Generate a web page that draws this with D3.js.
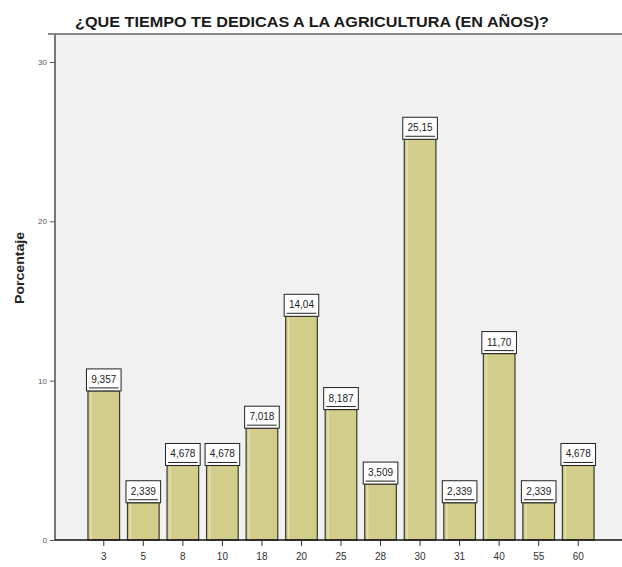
<!DOCTYPE html>
<html>
<head>
<meta charset="utf-8">
<script src="https://cdn.jsdelivr.net/npm/d3@7/dist/d3.min.js"></script>
<style>
  html, body { margin: 0; padding: 0; background: #ffffff; }
  svg { display: block; }
  text { font-family: "Liberation Sans", Arial, sans-serif; }
</style>
</head>
<body>
<svg id="chart" width="622" height="567"></svg>
<script>
// Years dedicated to agriculture and share of respondents (%)
const categories = ["3", "5", "8", "10", "18", "20", "25", "28", "30", "31", "40", "55", "60"];
const percentages = [9.357, 2.339, 4.678, 4.678, 7.018, 14.04, 8.187, 3.509, 25.15, 2.339, 11.70, 2.339, 4.678];
const valueLabels = ["9,357", "2,339", "4,678", "4,678", "7,018", "14,04", "8,187", "3,509", "25,15", "2,339", "11,70", "2,339", "4,678"];
const yTicks = [0, 10, 20, 30];
const titleText = "¿QUE TIEMPO TE DEDICAS A LA AGRICULTURA (EN AÑOS)?";
const yTitle = "Porcentaje";

const svg = d3.select("#chart");
const plotLeft = 55, plotRight = 622, plotTop = 34, plotBottom = 540;

const x = d3.scaleBand()
  .domain(categories)
  .range([84, 598])
  .paddingInner(0.2)
  .paddingOuter(0.1);

const y = d3.scaleLinear()
  .domain([0, 30])
  .range([plotBottom, 62]);

// plot background
svg.append("rect")
  .attr("x", plotLeft).attr("y", plotTop)
  .attr("width", plotRight - plotLeft).attr("height", plotBottom - plotTop)
  .attr("fill", "#f1f1f1");

// frame top line
svg.append("line")
  .attr("x1", 48).attr("x2", plotRight).attr("y1", plotTop).attr("y2", plotTop)
  .attr("stroke", "#8a8a8a").attr("stroke-width", 2);

// title
svg.append("text")
  .attr("x", 75).attr("y", 27)
  .attr("font-size", 14).attr("font-weight", "bold")
  .attr("textLength", 474).attr("lengthAdjust", "spacingAndGlyphs")
  .attr("fill", "#1a1a1a")
  .text(titleText);

// bars
const bars = svg.append("g");
bars.selectAll("rect.bar")
  .data(percentages)
  .join("rect")
  .attr("class", "bar")
  .attr("x", (d, i) => x(categories[i]))
  .attr("y", d => y(d))
  .attr("width", x.bandwidth())
  .attr("height", d => y(0) - y(d))
  .attr("fill", "#d3cd8b")
  .attr("stroke", "#3a3a2a")
  .attr("stroke-width", 1.2);

// inner light edges on bars
bars.selectAll("line.hl")
  .data(percentages)
  .join("line")
  .attr("class", "hl")
  .attr("x1", (d, i) => x(categories[i]) + 3)
  .attr("x2", (d, i) => x(categories[i]) + 3)
  .attr("y1", d => y(d) + 1)
  .attr("y2", y(0))
  .attr("stroke", "#e4e0b0").attr("stroke-width", 1.5);

// value label boxes
const lbl = svg.append("g");
const boxH = 22;
lbl.selectAll("rect")
  .data(percentages)
  .join("rect")
  .attr("x", (d, i) => x(categories[i]) - 1.5)
  .attr("y", d => y(d) - boxH)
  .attr("width", x.bandwidth() + 3)
  .attr("height", boxH)
  .attr("fill", "#ffffff")
  .attr("stroke", "#222")
  .attr("stroke-width", 1);
lbl.selectAll("line")
  .data(percentages)
  .join("line")
  .attr("x1", (d, i) => x(categories[i]) + 1)
  .attr("x2", (d, i) => x(categories[i]) + x.bandwidth() - 1)
  .attr("y1", d => y(d) - 3)
  .attr("y2", d => y(d) - 3)
  .attr("stroke", "#222").attr("stroke-width", 1);
lbl.selectAll("text")
  .data(percentages)
  .join("text")
  .attr("x", (d, i) => x(categories[i]) + x.bandwidth() / 2)
  .attr("y", d => y(d) - 8)
  .attr("text-anchor", "middle")
  .attr("font-size", 10)
  .attr("fill", "#222")
  .text((d, i) => valueLabels[i]);

// y axis
const yAxis = svg.append("g")
  .attr("transform", `translate(${plotLeft},0)`)
  .call(d3.axisLeft(y).tickValues(yTicks).tickSize(5).tickFormat(d3.format("d")));
yAxis.select(".domain").attr("stroke", "#777").attr("stroke-width", 2)
  .attr("d", `M0,${plotTop}V${plotBottom}`);
yAxis.selectAll(".tick line").attr("stroke", "#555");
yAxis.selectAll(".tick text").attr("font-size", 8).attr("fill", "#555")
  .attr("font-family", "Liberation Sans, Arial, sans-serif");

// x axis
const xAxis = svg.append("g")
  .attr("transform", `translate(0,${plotBottom})`)
  .call(d3.axisBottom(x).tickSize(6).tickPadding(7));
xAxis.select(".domain").attr("stroke", "#111").attr("stroke-width", 1.5)
  .attr("d", `M${plotLeft},0H${plotRight}`);
xAxis.selectAll(".tick line").attr("stroke", "#333");
xAxis.selectAll(".tick text").attr("font-size", 10).attr("fill", "#333")
  .attr("font-family", "Liberation Sans, Arial, sans-serif");

// y axis title
svg.append("text")
  .attr("transform", "translate(24,268) rotate(-90)")
  .attr("text-anchor", "middle")
  .attr("font-size", 12).attr("font-weight", "bold")
  .attr("textLength", 72).attr("lengthAdjust", "spacingAndGlyphs")
  .attr("fill", "#222")
  .text(yTitle);
</script>
</body>
</html>
